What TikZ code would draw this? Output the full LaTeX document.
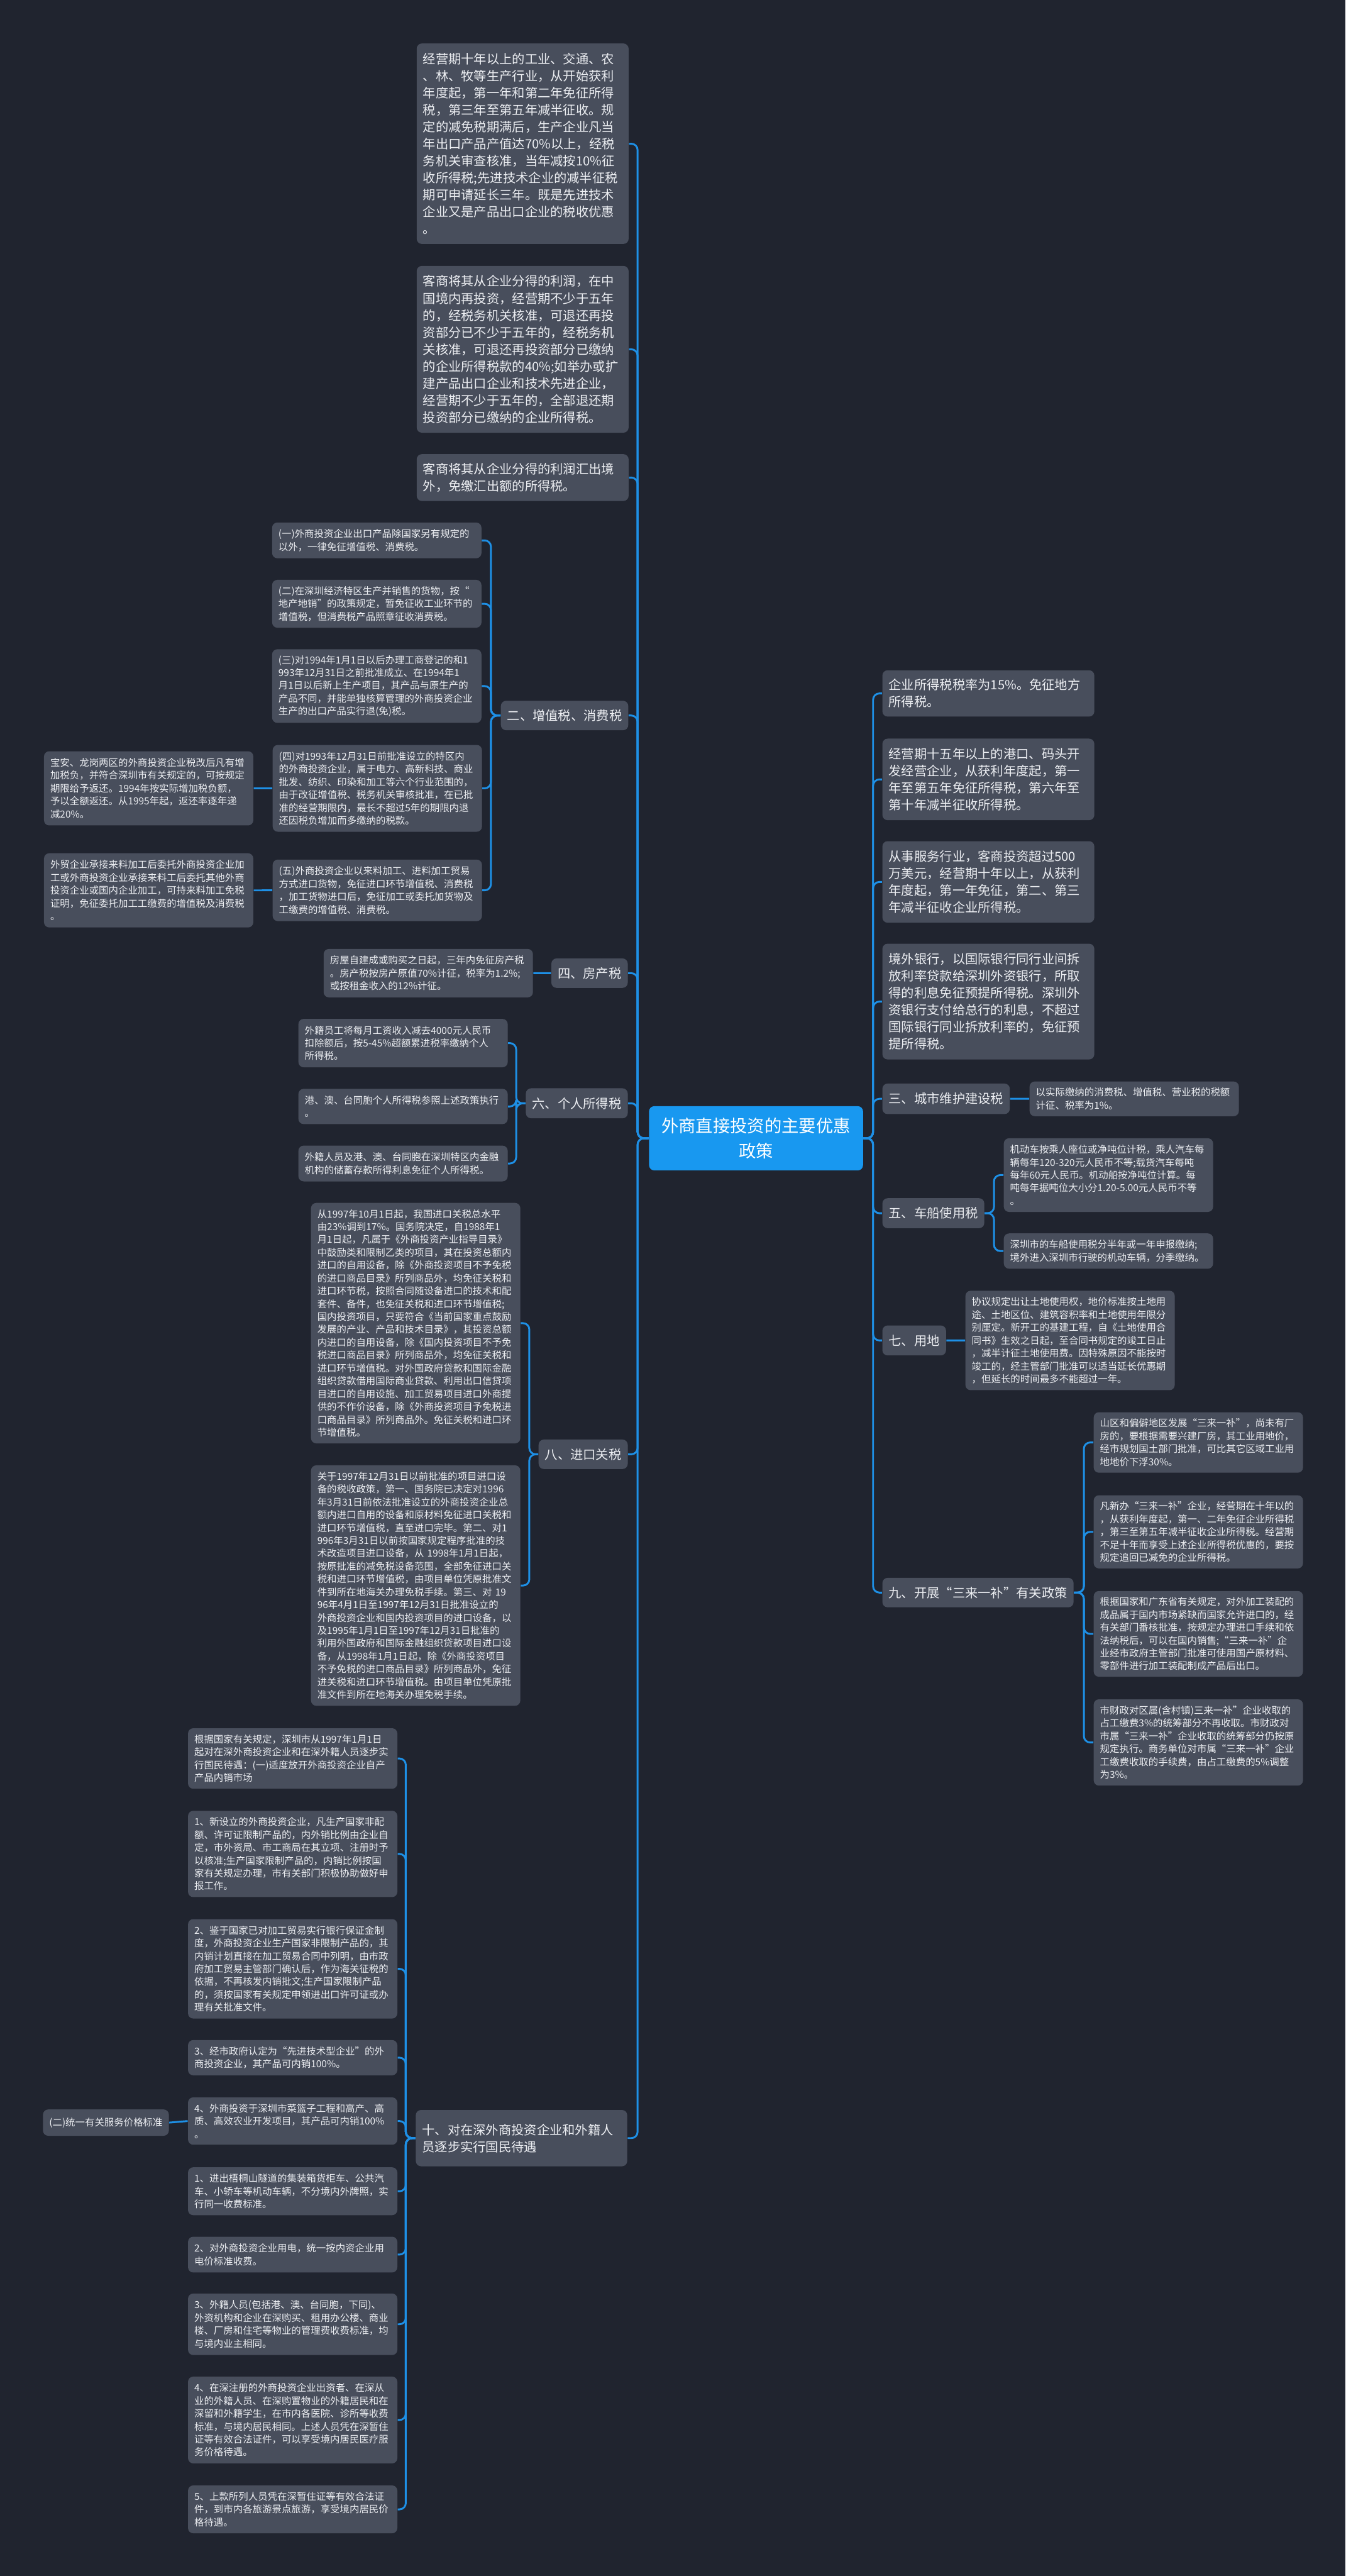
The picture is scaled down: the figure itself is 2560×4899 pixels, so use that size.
\documentclass[tikz,border=0pt]{standalone}
\usepackage{fontspec}
\setmainfont{Noto Sans CJK SC}
\usepackage{xcolor}
\usepackage{tikz}
\usetikzlibrary{positioning, calc}
\definecolor{bgnavy}{RGB}{32,36,47}
\definecolor{cardgray}{RGB}{72,78,92}
\definecolor{linkblue}{RGB}{30,144,230}
\definecolor{rootblue}{RGB}{24,152,240}
\definecolor{cardtext}{RGB}{236,238,242}
\tikzset{
  card/.style={fill=cardgray, rounded corners=0.1cm, text=cardtext, anchor=north west,
    align=left, inner xsep=0.12cm, inner ysep=0pt},
  bigtxt/.style={font=\fontsize{6.9pt}{9.2pt}\selectfont},
  smalltxt/.style={font=\fontsize{5.25pt}{6.95pt}\selectfont},
  wide/.style={text width=3.79cm},
  slim/.style={text width=3.74cm},
  rootcard/.style={fill=rootblue, rounded corners=0.1cm, text=white, anchor=north west,
    align=center, text width=3.83cm, minimum height=1.22cm, inner xsep=0.12cm,
    font=\fontsize{9.3pt}{13.4pt}\selectfont},
  link/.style={draw=linkblue, line width=1pt, rounded corners=0.12cm}
}

\begin{document}
\begin{tikzpicture}[x=0.01cm, y=-0.01cm]
\fill[bgnavy] (0,0) rectangle (2560,4899);
\useasboundingbox (0,0) rectangle (2560,4899);

% root
\node[rootcard] (root) at (1234,2103) {外商直接投资的主要优惠\\政策};

% trunks
\coordinate (ltrunk) at (1213,0);
\coordinate (rtrunk) at (1661,0);
\coordinate (sub2) at (934,0);
\coordinate (sub6) at (982,0);
\coordinate (sub8) at (1007,0);
\coordinate (sub10) at (772,0);
\coordinate (sub5) at (1891,0);
\coordinate (sub9) at (2062,0);

% left, top three
\node[card, bigtxt, wide, minimum height=3.81cm] (topa) at (792,82) {经营期十年以上的工业、交通、农\\、林、牧等生产行业，从开始获利\\年度起，第一年和第二年免征所得\\税，第三年至第五年减半征收。规\\定的减免税期满后，生产企业凡当\\年出口产品产值达70\%以上，经税\\务机关审查核准，当年减按10\%征\\收所得税;先进技术企业的减半征税\\期可申请延长三年。既是先进技术\\企业又是产品出口企业的税收优惠\\。};
\node[card, bigtxt, wide, minimum height=3.17cm] (topb) at (792,505) {客商将其从企业分得的利润，在中\\国境内再投资，经营期不少于五年\\的，经税务机关核准，可退还再投\\资部分已不少于五年的，经税务机\\关核准，可退还再投资部分已缴纳\\的企业所得税款的40\%;如举办或扩\\建产品出口企业和技术先进企业，\\经营期不少于五年的，全部退还期\\投资部分已缴纳的企业所得税。};
\node[card, bigtxt, wide, minimum height=0.89cm] (topc) at (792,863) {客商将其从企业分得的利润汇出境\\外，免缴汇出额的所得税。};

% branch labels, left
\node[card, bigtxt, anchor=north east, minimum height=0.56cm] (lab2) at (1196,1332) {二、增值税、消费税};
\node[card, bigtxt, anchor=north east, minimum height=0.56cm] (lab4) at (1195,1822) {四、房产税};
\node[card, bigtxt, anchor=north east, minimum height=0.57cm] (lab6) at (1195,2069) {六、个人所得税};
\node[card, bigtxt, anchor=north east, minimum height=0.56cm] (lab8) at (1195,2737) {八、进口关税};
\node[card, bigtxt, anchor=north east, text width=3.78cm, minimum height=1.07cm] (lab10) at (1194,4012) {十、对在深外商投资企业和外籍人\\员逐步实行国民待遇};

% 二
\node[card, smalltxt, slim, minimum height=0.68cm] (vata) at (517,993) {(一)外商投资企业出口产品除国家另有规定的\\以外，一律免征增值税、消费税。};
\node[card, smalltxt, slim, minimum height=0.91cm] (vatb) at (517,1102) {(二)在深圳经济特区生产并销售的货物，按“\\地产地销”的政策规定，暂免征收工业环节的\\增值税，但消费税产品照章征收消费税。};
\node[card, smalltxt, slim, minimum height=1.40cm] (vatc) at (517,1234) {(三)对1994年1月1日以后办理工商登记的和1\\993年12月31日之前批准成立、在1994年1\\月1日以后新上生产项目，其产品与原生产的\\产品不同，并能单独核算管理的外商投资企业\\生产的出口产品实行退(免)税。};
\node[card, smalltxt, slim, minimum height=1.65cm] (vatd) at (518,1416) {(四)对1993年12月31日前批准设立的特区内\\的外商投资企业，属于电力、高新科技、商业\\批发、纺织、印染和加工等六个行业范围的，\\由于改征增值税、税务机关审核批准，在已批\\准的经营期限内，最长不超过5年的期限内退\\还因税负增加而多缴纳的税款。};
\node[card, smalltxt, slim, minimum height=1.17cm] (vate) at (518,1634) {(五)外商投资企业以来料加工、进料加工贸易\\方式进口货物，免征进口环节增值税、消费税\\，加工货物进口后，免征加工或委托加货物及\\工缴费的增值税、消费税。};
\node[card, smalltxt, slim, minimum height=1.41cm] (vatdx) at (83,1428) {宝安、龙岗两区的外商投资企业税改后凡有增\\加税负，并符合深圳市有关规定的，可按规定\\期限给予返还。1994年按实际增加税负额，\\予以全额返还。从1995年起，返还率逐年递\\减20\%。};
\node[card, smalltxt, slim, minimum height=1.41cm] (vatex) at (83,1622) {外贸企业承接来料加工后委托外商投资企业加\\工或外商投资企业承接来料工后委托其他外商\\投资企业或国内企业加工，可持来料加工免税\\证明，免征委托加工工缴费的增值税及消费税\\。};

% 四
\node[card, smalltxt, slim, minimum height=0.92cm] (house) at (615,1804) {房屋自建成或购买之日起，三年内免征房产税\\。房产税按房产原值70\%计征，税率为1.2\%;\\或按租金收入的12\%计征。};

% 六
\node[card, smalltxt, slim, minimum height=0.92cm] (inca) at (567,1937) {外籍员工将每月工资收入减去4000元人民币\\扣除额后，按5-45\%超额累进税率缴纳个人\\所得税。};
\node[card, smalltxt, slim, minimum height=0.67cm] (incb) at (567,2070) {港、澳、台同胞个人所得税参照上述政策执行\\。};
\node[card, smalltxt, slim, minimum height=0.68cm] (incc) at (567,2178) {外籍人员及港、澳、台同胞在深圳特区内金融\\机构的储蓄存款所得利息免征个人所得税。};

% 八
\node[card, smalltxt, slim, minimum height=4.57cm] (impa) at (591,2287) {从1997年10月1日起，我国进口关税总水平\\由23\%调到17\%。国务院决定，自1988年1\\月1日起，凡属于《外商投资产业指导目录》\\中鼓励类和限制乙类的项目，其在投资总额内\\进口的自用设备，除《外商投资项目不予免税\\的进口商品目录》所列商品外，均免征关税和\\进口环节税，按照合同随设备进口的技术和配\\套件、备件，也免征关税和进口环节增值税;\\国内投资项目，只要符合《当前国家重点鼓励\\发展的产业、产品和技术目录》，其投资总额\\内进口的自用设备，除《国内投资项目不予免\\税进口商品目录》所列商品外，均免征关税和\\进口环节增值税。对外国政府贷款和国际金融\\组织贷款借用国际商业贷款、利用出口信贷项\\目进口的自用设施、加工贸易项目进口外商提\\供的不作价设备，除《外商投资项目予免税进\\口商品目录》所列商品外。免征关税和进口环\\节增值税。};
\node[card, smalltxt, slim, minimum height=4.57cm] (impb) at (591,2786) {关于1997年12月31日以前批准的项目进口设\\备的税收政策，第一、国务院已决定对1996\\年3月31日前依法批准设立的外商投资企业总\\额内进口自用的设备和原材料免征进口关税和\\进口环节增值税，直至进口完毕。第二、对1\\996年3月31日以前按国家规定程序批准的技\\术改造项目进口设备，从 1998年1月1日起，\\按原批准的减免税设备范围，全部免征进口关\\税和进口环节增值税，由项目单位凭原批准文\\件到所在地海关办理免税手续。第三、对 19\\96年4月1日至1997年12月31日批准设立的\\外商投资企业和国内投资项目的进口设备，以\\及1995年1月1日至1997年12月31日批准的\\利用外国政府和国际金融组织贷款项目进口设\\备，从1998年1月1日起，除《外商投资项目\\不予免税的进口商品目录》所列商品外，免征\\进关税和进口环节增值税。由项目单位凭原批\\准文件到所在地海关办理免税手续。};

% 十
\node[card, smalltxt, slim, minimum height=1.15cm] (natz) at (357,3286) {根据国家有关规定，深圳市从1997年1月1日\\起对在深外商投资企业和在深外籍人员逐步实\\行国民待遇：(一)适度放开外商投资企业自产\\产品内销市场};
\node[card, smalltxt, slim, minimum height=1.64cm] (nata) at (357,3443) {1、新设立的外商投资企业，凡生产国家非配\\额、许可证限制产品的，内外销比例由企业自\\定，市外资局、市工商局在其立项、注册时予\\以核准;生产国家限制产品的，内销比例按国\\家有关规定办理，市有关部门积极协助做好申\\报工作。};
\node[card, smalltxt, slim, minimum height=1.89cm] (natb) at (357,3649) {2、鉴于国家已对加工贸易实行银行保证金制\\度，外商投资企业生产国家非限制产品的，其\\内销计划直接在加工贸易合同中列明，由市政\\府加工贸易主管部门确认后，作为海关征税的\\依据，不再核发内销批文;生产国家限制产品\\的，须按国家有关规定申领进出口许可证或办\\理有关批准文件。};
\node[card, smalltxt, slim, minimum height=0.67cm] (natc) at (357,3879) {3、经市政府认定为“先进技术型企业”的外\\商投资企业，其产品可内销100\%。};
\node[card, smalltxt, slim, minimum height=0.90cm] (natd) at (357,3988) {4、外商投资于深圳市菜篮子工程和高产、高\\质、高效农业开发项目，其产品可内销100\%\\。};
\node[card, smalltxt, minimum height=0.50cm] (natdx) at (81,4011) {(二)统一有关服务价格标准};
\node[card, smalltxt, slim, minimum height=0.91cm] (nate) at (357,4121) {1、进出梧桐山隧道的集装箱货柜车、公共汽\\车、小轿车等机动车辆，不分境内外牌照，实\\行同一收费标准。};
\node[card, smalltxt, slim, minimum height=0.68cm] (natf) at (357,4253) {2、对外商投资企业用电，统一按内资企业用\\电价标准收费。};
\node[card, smalltxt, slim, minimum height=1.17cm] (natg) at (357,4361) {3、外籍人员(包括港、澳、台同胞，下同)、\\外资机构和企业在深购买、租用办公楼、商业\\楼、厂房和住宅等物业的管理费收费标准，均\\与境内业主相同。};
\node[card, smalltxt, slim, minimum height=1.65cm] (nath) at (357,4519) {4、在深注册的外商投资企业出资者、在深从\\业的外籍人员、在深购置物业的外籍居民和在\\深留和外籍学生，在市内各医院、诊所等收费\\标准，与境内居民相同。上述人员凭在深暂住\\证等有效合法证件，可以享受境内居民医疗服\\务价格待遇。};
\node[card, smalltxt, slim, minimum height=0.91cm] (nati) at (357,4726) {5、上款所列人员凭在深暂住证等有效合法证\\件，到市内各旅游景点旅游，享受境内居民价\\格待遇。};

% right, top four
\node[card, bigtxt, wide, minimum height=0.88cm] (righta) at (1678,1274) {企业所得税税率为15\%。免征地方\\所得税。};
\node[card, bigtxt, wide, minimum height=1.55cm] (rightb) at (1678,1404) {经营期十五年以上的港口、码头开\\发经营企业，从获利年度起，第一\\年至第五年免征所得税，第六年至\\第十年减半征收所得税。};
\node[card, bigtxt, wide, minimum height=1.55cm] (rightc) at (1678,1599) {从事服务行业，客商投资超过500\\万美元，经营期十年以上，从获利\\年度起，第一年免征，第二、第三\\年减半征收企业所得税。};
\node[card, bigtxt, wide, minimum height=2.20cm] (rightd) at (1678,1794) {境外银行，以国际银行同行业间拆\\放利率贷款给深圳外资银行，所取\\得的利息免征预提所得税。深圳外\\资银行支付给总行的利息，不超过\\国际银行同业拆放利率的，免征预\\提所得税。};

% branch labels, right
\node[card, bigtxt, minimum height=0.58cm] (lab3) at (1678,2060) {三、城市维护建设税};
\node[card, bigtxt, minimum height=0.57cm] (lab5) at (1678,2278) {五、车船使用税};
\node[card, bigtxt, minimum height=0.57cm] (lab7) at (1678,2520) {七、用地};
\node[card, bigtxt, minimum height=0.56cm] (lab9) at (1678,3000) {九、开展“三来一补”有关政策};

% 三 五 七 九
\node[card, smalltxt, slim, minimum height=0.66cm] (city) at (1958,2056) {以实际缴纳的消费税、增值税、营业税的税额\\计征、税率为1\%。};
\node[card, smalltxt, slim, minimum height=1.40cm] (vehia) at (1909,2164) {机动车按乘人座位或净吨位计税，乘人汽车每\\辆每年120-320元人民币不等;载货汽车每吨\\每年60元人民币。机动船按净吨位计算。每\\吨每年据吨位大小分1.20-5.00元人民币不等\\。};
\node[card, smalltxt, slim, minimum height=0.67cm] (vehib) at (1909,2345) {深圳市的车船使用税分半年或一年申报缴纳;\\境外进入深圳市行驶的机动车辆，分季缴纳。};
\node[card, smalltxt, slim, minimum height=1.89cm] (land) at (1836,2454) {协议规定出让土地使用权，地价标准按土地用\\途、土地区位、建筑容积率和土地使用年限分\\别厘定。新开工的基建工程，自《土地使用合\\同书》生效之日起，至合同书规定的竣工日止\\，减半计征土地使用费。因特殊原因不能按时\\竣工的，经主管部门批准可以适当延长优惠期\\，但延长的时间最多不能超过一年。};
\node[card, smalltxt, slim, minimum height=1.15cm] (sanla) at (2080,2685) {山区和偏僻地区发展“三来一补”，尚未有厂\\房的，要根据需要兴建厂房，其工业用地价，\\经市规划国土部门批准，可比其它区域工业用\\地地价下浮30\%。};
\node[card, smalltxt, slim, minimum height=1.39cm] (sanlb) at (2080,2843) {凡新办“三来一补”企业，经营期在十年以的\\，从获利年度起，第一、二年免征企业所得税\\，第三至第五年减半征收企业所得税。经营期\\不足十年而享受上述企业所得税优惠的，要按\\规定追回已减免的企业所得税。};
\node[card, smalltxt, slim, minimum height=1.63cm] (sanlc) at (2080,3025) {根据国家和广东省有关规定，对外加工装配的\\成品属于国内市场紧缺而国家允许进口的，经\\有关部门番核批准，按规定办理进口手续和依\\法纳税后，可以在国内销售;“三来一补”企\\业经市政府主管部门批准可使用国产原材料、\\零部件进行加工装配制成产品后出口。};
\node[card, smalltxt, slim, minimum height=1.64cm] (sanld) at (2080,3231) {市财政对区属(含村镇)三来一补”企业收取的\\占工缴费3\%的统筹部分不再收取。市财政对\\市属“三来一补”企业收取的统筹部分仍按原\\规定执行。商务单位对市属“三来一补”企业\\工缴费收取的手续费，由占工缴费的5\%调整\\为3\%。};

% connectors, root to left
\draw[link] (root.west) -| (ltrunk |- topa.east) -- (topa.east);
\draw[link] (root.west) -| (ltrunk |- topb.east) -- (topb.east);
\draw[link] (root.west) -| (ltrunk |- topc.east) -- (topc.east);
\draw[link] (root.west) -| (ltrunk |- lab2.east) -- (lab2.east);
\draw[link] (root.west) -| (ltrunk |- lab4.east) -- (lab4.east);
\draw[link] (root.west) -| (ltrunk |- lab6.east) -- (lab6.east);
\draw[link] (root.west) -| (ltrunk |- lab8.east) -- (lab8.east);
\draw[link] (root.west) -| (ltrunk |- lab10.east) -- (lab10.east);

% connectors, root to right
\draw[link] (root.east) -| (rtrunk |- righta.west) -- (righta.west);
\draw[link] (root.east) -| (rtrunk |- rightb.west) -- (rightb.west);
\draw[link] (root.east) -| (rtrunk |- rightc.west) -- (rightc.west);
\draw[link] (root.east) -| (rtrunk |- rightd.west) -- (rightd.west);
\draw[link] (root.east) -| (rtrunk |- lab3.west) -- (lab3.west);
\draw[link] (root.east) -| (rtrunk |- lab5.west) -- (lab5.west);
\draw[link] (root.east) -| (rtrunk |- lab7.west) -- (lab7.west);
\draw[link] (root.east) -| (rtrunk |- lab9.west) -- (lab9.west);

% branch children
\draw[link] (lab2.west) -| (sub2 |- vata.east) -- (vata.east);
\draw[link] (lab2.west) -| (sub2 |- vatb.east) -- (vatb.east);
\draw[link] (lab2.west) -| (sub2 |- vatc.east) -- (vatc.east);
\draw[link] (lab2.west) -| (sub2 |- vatd.east) -- (vatd.east);
\draw[link] (lab2.west) -| (sub2 |- vate.east) -- (vate.east);
\draw[link] (vatd.west) -- (vatdx.east);
\draw[link] (vate.west) -- (vatex.east);
\draw[link] (lab4.west) -- (house.east);
\draw[link] (lab6.west) -| (sub6 |- inca.east) -- (inca.east);
\draw[link] (lab6.west) -| (sub6 |- incb.east) -- (incb.east);
\draw[link] (lab6.west) -| (sub6 |- incc.east) -- (incc.east);
\draw[link] (lab8.west) -| (sub8 |- impa.east) -- (impa.east);
\draw[link] (lab8.west) -| (sub8 |- impb.east) -- (impb.east);
\draw[link] (lab10.west) -| (sub10 |- natz.east) -- (natz.east);
\draw[link] (lab10.west) -| (sub10 |- nata.east) -- (nata.east);
\draw[link] (lab10.west) -| (sub10 |- natb.east) -- (natb.east);
\draw[link] (lab10.west) -| (sub10 |- natc.east) -- (natc.east);
\draw[link] (lab10.west) -| (sub10 |- natd.east) -- (natd.east);
\draw[link] (lab10.west) -| (sub10 |- nate.east) -- (nate.east);
\draw[link] (lab10.west) -| (sub10 |- natf.east) -- (natf.east);
\draw[link] (lab10.west) -| (sub10 |- natg.east) -- (natg.east);
\draw[link] (lab10.west) -| (sub10 |- nath.east) -- (nath.east);
\draw[link] (lab10.west) -| (sub10 |- nati.east) -- (nati.east);
\draw[link] (natd.west) -- (natdx.east);
\draw[link] (lab3.east) -- (city.west);
\draw[link] (lab5.east) -| (sub5 |- vehia.west) -- (vehia.west);
\draw[link] (lab5.east) -| (sub5 |- vehib.west) -- (vehib.west);
\draw[link] (lab7.east) -- (land.west);
\draw[link] (lab9.east) -| (sub9 |- sanla.west) -- (sanla.west);
\draw[link] (lab9.east) -| (sub9 |- sanlb.west) -- (sanlb.west);
\draw[link] (lab9.east) -| (sub9 |- sanlc.west) -- (sanlc.west);
\draw[link] (lab9.east) -| (sub9 |- sanld.west) -- (sanld.west);
\end{tikzpicture}
\end{document}
